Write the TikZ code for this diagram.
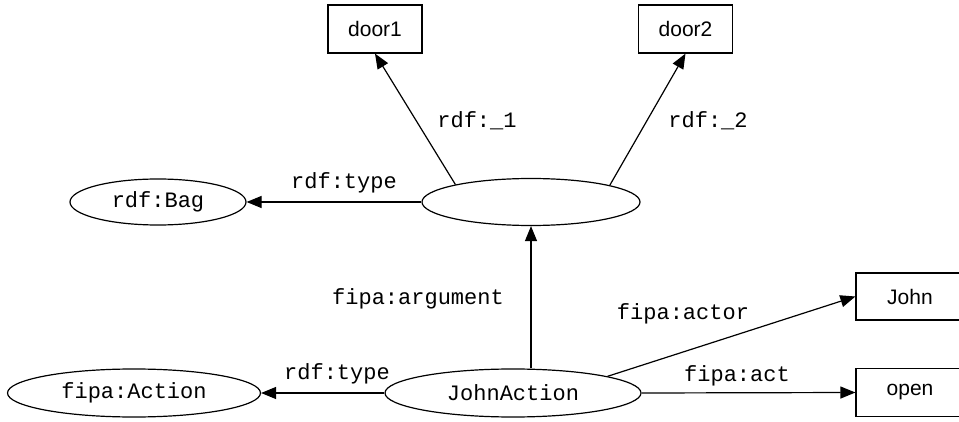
\documentclass[tikz,border=0pt]{standalone}
\usepackage{fontspec}
\setmainfont{Liberation Sans}
\setsansfont{Liberation Sans}
\setmonofont{Liberation Mono}
\usetikzlibrary{shapes.geometric,arrows.meta}

\begin{document}
\begin{tikzpicture}[x=1pt,y=-1pt,
  line width=1.2pt,
  lbl/.style={font=\fontsize{22}{26}\selectfont\ttfamily, inner sep=0pt},
  oval/.style={draw, ellipse, inner sep=0pt, minimum height=47pt, font=\fontsize{22}{26}\selectfont\ttfamily},
  box/.style={draw, rectangle, inner sep=0pt, minimum width=94pt, minimum height=48pt, font=\fontsize{21}{25}\selectfont\sffamily},
  edge/.style={-{Triangle[length=15pt,width=12pt]}, line width=1.2pt}
]
\useasboundingbox (0,0) rectangle (959,422);

\node[box] (door1) at (375,29) {door1};
\node[box] (door2) at (685.5,29) {door2};
\node[oval, minimum width=176pt, minimum height=46pt] (bag) at (158,202) {rdf:Bag};
\node[oval, minimum width=218pt] (blank) at (531,202) {};
\node[oval, minimum width=253pt, minimum height=48pt] (action) at (134,393) {fipa:Action};
\node[oval, minimum width=256pt, minimum height=48pt] (ja) at (513,393) {JohnAction};
\node[box, minimum width=108pt, minimum height=47pt] (john) at (910,296.5) {John};
\node[box, minimum width=108pt] (open) at (910,392.5) {open};

\draw[edge] (blank.west) -- (bag.east);
\draw[edge] (blank.167) -- (door1.south);
\draw[edge] (blank.12) -- (door2.south);
\draw[edge] (ja.north -| blank.south) -- (blank.south);
\draw[edge] (ja.west) -- (action.east);
\draw[edge] (ja.10) -- (john.west);
\draw[edge] (ja.east) -- (open.west);

\node[lbl] (l1) at (477,121) {rdf:\_1};
\node[lbl] (l2) at (708,121) {rdf:\_2};
\node[lbl] (l3) at (344,183) {rdf:type};
\node[lbl] (l4) at (418,299) {fipa:argument};
\node[lbl] (l5) at (683,314) {fipa:actor};
\node[lbl] (l6) at (737,376) {fipa:act};
\node[lbl] (l7) at (337,374) {rdf:type};
\end{tikzpicture}
\end{document}
